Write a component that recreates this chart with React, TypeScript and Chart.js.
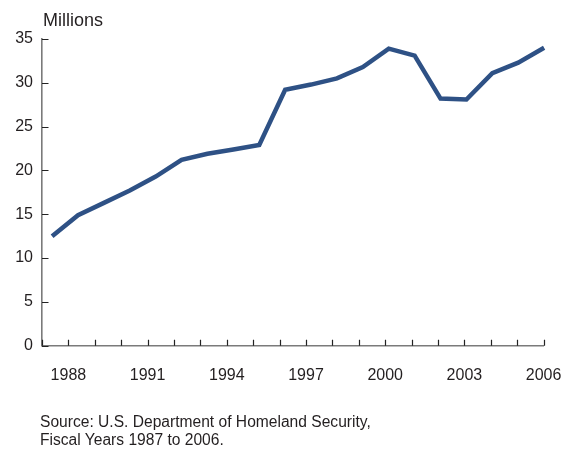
import React, { useEffect, useRef } from "react";
import { Chart, registerables } from "chart.js";

Chart.register(...registerables);

const years = [1987, 1988, 1989, 1990, 1991, 1992, 1993, 1994, 1995, 1996, 1997, 1998, 1999, 2000, 2001, 2002, 2003, 2004, 2005, 2006];
const values = [12.5, 14.9, 16.3, 17.7, 19.3, 21.2, 21.9, 22.4, 22.9, 29.2, 29.8, 30.5, 31.8, 33.9, 33.1, 28.2, 28.1, 31.1, 32.3, 34.0];
const xLabelYears = [1988, 1991, 1994, 1997, 2000, 2003, 2006];
const yMin = 0;
const yMax = 35;
const yStep = 5;
const unitLabel = "Millions";
const sourceLines = ["Source: U.S. Department of Homeland Security,", "Fiscal Years 1987 to 2006."];

const FONT = "'Liberation Sans', Arial, sans-serif";
const TEXT = "#231f20";
const LINE = "#2e5185";
const AXIS = "#7a7a7a";

const innerTicks = {
  id: "innerTicks",
  afterDraw(chart: any) {
    const { ctx, chartArea, scales } = chart;
    ctx.save();
    ctx.strokeStyle = "#222";
    ctx.lineWidth = 1.2;
    ctx.beginPath();
    for (const t of scales.x.ticks) {
      const px = Math.round(scales.x.getPixelForValue(t.value)) + 0.5;
      ctx.moveTo(px, chartArea.bottom);
      ctx.lineTo(px, chartArea.bottom - 6);
    }
    for (const t of scales.y.ticks) {
      const py = Math.round(scales.y.getPixelForValue(t.value)) + 0.5;
      ctx.moveTo(chartArea.left, py);
      ctx.lineTo(chartArea.left + 6.5, py);
    }
    ctx.stroke();
    ctx.restore();
  },
};

export default function App() {
  const ref = useRef<HTMLCanvasElement>(null);

  useEffect(() => {
    if (!ref.current) return;
    const chart = new Chart(ref.current, {
      type: "line",
      data: {
        datasets: [
          {
            data: years.map((y, i) => ({ x: y, y: values[i] })),
            xAxisID: "xd",
            yAxisID: "y",
            borderColor: LINE,
            borderWidth: 4.5,
            borderCapStyle: "butt",
            borderJoinStyle: "miter",
            pointRadius: 0,
            tension: 0,
            fill: false,
            clip: false as any,
          },
        ],
      },
      options: {
        animation: false,
        responsive: false,
        layout: { padding: { left: 0, top: 39, right: 20.4, bottom: 58.3 } },
        plugins: { legend: { display: false }, tooltip: { enabled: false }, title: { display: false } },
        scales: {
          x: {
            type: "linear",
            position: "bottom",
            min: years[0],
            max: years[years.length - 1],
            grid: { display: false, drawTicks: false },
            border: { display: true, color: AXIS, width: 1.6 },
            ticks: {
              stepSize: 1,
              autoSkip: false,
              maxRotation: 0,
              padding: 20,
              color: TEXT,
              font: { family: FONT, size: 16 },
              callback: (v: any) => (xLabelYears.includes(Number(v)) ? String(v) : ""),
            },
            afterFit: (s: any) => {
              s.height = 60;
              s.paddingLeft = 0;
              s.paddingRight = 0;
            },
          },
          xd: {
            type: "linear",
            display: false,
            min: 1986.61,
            max: 2005.98,
          },
          y: {
            type: "linear",
            position: "left",
            min: yMin,
            max: yMax,
            grid: { display: false, drawTicks: false },
            border: { display: true, color: AXIS, width: 1.6 },
            ticks: {
              stepSize: yStep,
              padding: 9,
              color: TEXT,
              font: { family: FONT, size: 16 },
            },
            afterFit: (s: any) => {
              s.width = 42;
              s.paddingTop = 0;
              s.paddingBottom = 0;
            },
          },
        },
      },
      plugins: [innerTicks],
    } as any);
    return () => chart.destroy();
  }, []);

  return (
    <div style={{ position: "absolute", left: 0, top: 0, width: 564, height: 464, background: "#fff" }}>
      <canvas ref={ref} width={564} height={464} style={{ position: "absolute", left: 0, top: 0, width: 564, height: 464 }} />
      <div
        style={{
          position: "absolute",
          left: 43,
          top: 10.5,
          fontFamily: FONT,
          fontSize: 18,
          lineHeight: "18px",
          color: TEXT,
          whiteSpace: "nowrap",
        }}
      >
        {unitLabel}
      </div>
      <div
        style={{
          position: "absolute",
          left: 40,
          top: 412.5,
          fontFamily: FONT,
          fontSize: 15.6,
          lineHeight: "18px",
          color: TEXT,
          whiteSpace: "nowrap",
        }}
      >
        {sourceLines.map((l, i) => (
          <div key={i}>{l}</div>
        ))}
      </div>
    </div>
  );
}
